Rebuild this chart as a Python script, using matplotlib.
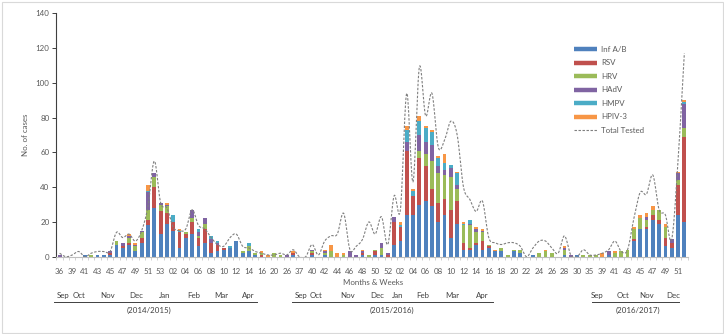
import numpy as np
import matplotlib
matplotlib.use("Agg")
import matplotlib.pyplot as plt
from matplotlib.lines import Line2D
from matplotlib.patches import Rectangle
import matplotlib.transforms as mtransforms

plt.rcParams['font.family'] = ['Lato', 'DejaVu Sans']

# ---------------- data ----------------
weeks = ["36", "38", "39", "40", "41", "42", "43", "44", "45", "46",
         "47", "48", "49", "50", "51", "52", "53", "01", "02", "03",
         "04", "05", "06", "07", "08", "09", "10", "11", "12", "13",
         "14", "15", "16", "18", "20", "22", "26", "36", "37", "39",
         "40", "41", "42", "43", "44", "45", "46", "47", "48", "49",
         "50", "51", "52", "53", "02", "03", "04", "05", "06", "07",
         "08", "09", "10", "11", "12", "13", "14", "15", "16", "17",
         "18", "19", "20", "21", "22", "23", "24", "25", "26", "27",
         "28", "29", "30", "33", "35", "37", "39", "40", "41", "42",
         "43", "44", "45", "46", "47", "48", "49", "50", "51", "52"]

inf_ab = [0, 0, 0, 0, 1, 0, 1, 1, 1, 7, 5, 7, 3, 8, 18, 28, 13, 19, 15, 5,
          11, 13, 6, 8, 2, 3, 4, 5, 9, 2, 3, 1, 0, 0, 0, 0, 0, 1, 0, 0,
          1, 0, 1, 0, 0, 0, 0, 0, 1, 0, 1, 1, 0, 7, 9, 24, 24, 30, 32, 29,
          20, 24, 11, 19, 4, 4, 7, 4, 5, 3, 3, 0, 3, 2, 0, 1, 0, 0, 0, 0,
          1, 0, 1, 0, 0, 0, 0, 1, 0, 0, 0, 9, 16, 16, 21, 19, 6, 5, 24, 20]
rsv = [0, 0, 0, 0, 0, 0, 0, 0, 1, 0, 1, 1, 0, 3, 3, 12, 13, 6, 5, 9,
       2, 7, 5, 8, 6, 4, 1, 0, 0, 0, 0, 0, 1, 0, 0, 0, 0, 1, 0, 0,
       1, 0, 0, 0, 0, 0, 0, 0, 1, 0, 2, 0, 1, 13, 8, 37, 11, 27, 20, 10,
       11, 9, 16, 13, 4, 1, 1, 5, 1, 0, 0, 0, 0, 0, 0, 0, 0, 0, 0, 0,
       0, 0, 0, 0, 0, 0, 0, 0, 0, 0, 0, 1, 0, 1, 3, 2, 5, 3, 17, 49]
hrv = [0, 0, 0, 0, 0, 1, 0, 0, 0, 2, 0, 3, 3, 3, 6, 6, 4, 4, 0, 0,
       1, 2, 1, 3, 0, 0, 0, 0, 0, 1, 3, 1, 1, 0, 2, 1, 0, 0, 0, 0,
       1, 0, 1, 3, 0, 1, 0, 0, 0, 1, 1, 4, 0, 0, 0, 0, 0, 4, 7, 16,
       17, 14, 19, 7, 10, 13, 6, 5, 1, 0, 2, 1, 1, 2, 0, 0, 2, 3, 2, 0,
       3, 0, 0, 1, 1, 1, 0, 0, 2, 3, 4, 6, 6, 4, 3, 6, 6, 0, 3, 5]
hadv = [1, 0, 0, 0, 0, 0, 0, 0, 1, 0, 2, 1, 1, 1, 10, 2, 1, 1, 0, 0,
        0, 5, 2, 3, 2, 1, 0, 0, 0, 0, 0, 0, 0, 0, 0, 0, 1, 0, 0, 0,
        1, 0, 1, 0, 0, 0, 3, 1, 1, 0, 0, 3, 1, 3, 0, 5, 0, 9, 7, 9,
        4, 3, 5, 2, 0, 1, 2, 1, 0, 0, 0, 0, 0, 0, 0, 0, 0, 0, 0, 0,
        1, 1, 0, 0, 0, 0, 0, 2, 0, 0, 0, 0, 0, 2, 0, 0, 0, 2, 4, 14]
hmpv = [0, 0, 0, 0, 0, 0, 0, 0, 0, 0, 0, 0, 0, 0, 1, 0, 0, 0, 4, 1,
        0, 0, 2, 0, 2, 1, 0, 1, 0, 0, 2, 0, 0, 0, 0, 0, 0, 0, 0, 0,
        0, 0, 0, 0, 0, 0, 0, 0, 0, 0, 0, 0, 0, 0, 1, 7, 3, 8, 8, 8,
        5, 4, 2, 7, 1, 2, 0, 0, 0, 0, 0, 0, 0, 0, 0, 0, 0, 0, 0, 0,
        0, 0, 0, 0, 0, 0, 0, 0, 0, 0, 0, 0, 0, 0, 0, 0, 0, 0, 0, 1]
hpiv3 = [0, 0, 0, 0, 0, 0, 0, 0, 0, 0, 0, 1, 1, 0, 3, 0, 0, 1, 0, 1,
         0, 0, 0, 0, 0, 0, 0, 0, 0, 0, 0, 0, 1, 1, 0, 0, 0, 1, 0, 0,
         0, 0, 1, 4, 2, 1, 0, 0, 1, 0, 0, 0, 0, 0, 2, 2, 1, 3, 1, 1,
         1, 5, 0, 1, 1, 0, 1, 1, 0, 1, 0, 0, 0, 0, 0, 0, 0, 1, 0, 0,
         1, 0, 0, 0, 0, 0, 2, 0, 1, 0, 0, 1, 2, 2, 2, 0, 2, 0, 1, 1]
total_tested = [2, 0, 1, 3, 0, 2, 3, 3, 3, 14, 11, 13, 9, 15, 29, 55, 31, 28, 17, 15,
                16, 27, 18, 16, 11, 7, 6, 11, 13, 6, 5, 3, 2, 1, 1, 2, 1, 4, 0, 0,
                7, 1, 9, 12, 13, 25, 4, 6, 10, 20, 13, 23, 7, 35, 27, 94, 43, 109, 81, 94,
                63, 67, 78, 70, 40, 33, 26, 32, 11, 8, 7, 8, 8, 6, 0, 5, 9, 9, 5, 2,
                12, 1, 0, 4, 1, 1, 2, 4, 9, 3, 4, 22, 37, 36, 47, 27, 24, 10, 55, 117]

series_names = ["Inf A/B", "RSV", "HRV", "HAdV", "HMPV", "HPIV-3"]
series_values = [inf_ab, rsv, hrv, hadv, hmpv, hpiv3]
series_colors = ["#4F81BD", "#C0504D", "#9BBB59", "#8064A2", "#4BACC6", "#F79646"]

seasons = ["(2014/2015)", "(2015/2016)", "(2016/2017)"]
season_months = [["Sep", "Oct", "Nov", "Dec", "Jan", "Feb", "Mar", "Apr"],
                 ["Sep", "Oct", "Nov", "Dec", "Jan", "Feb", "Mar", "Apr"],
                 ["Sep", "Oct", "Nov", "Dec"]]

# ---------------- layout (category-unit positions of the month annotations) ----------------
month_pos = [[0.6, 3.0, 7.6, 12.2, 16.6, 21.2, 25.6, 29.9],
             [38.3, 40.7, 45.6, 50.3, 53.5, 57.6, 62.2, 67.0],
             [85.2, 89.2, 93.1, 97.3]]
underline_span = [(-0.85, 31.2), (36.9, 68.7), (84.3, 98.2)]
season_pos = [14.2, 52.7, 91.7]

W, H = 724, 334
FS = 5.7
fig = plt.figure(figsize=(W / 100, H / 100), dpi=100)
fig.patch.set_facecolor("white")
fig.add_artist(Rectangle((1.5 / W, 1.5 / H), 1 - 3 / W, 1 - 3 / H, transform=fig.transFigure,
                         fill=False, edgecolor="#d9d9d9", lw=0.8))

ax = fig.add_axes([56.5 / W, 1 - 256.7 / H, 631 / W, 243.4 / H])

x = np.arange(len(weeks))
bottom = np.zeros(len(weeks))
for name, vals, col in zip(series_names, series_values, series_colors):
    v = np.array(vals, dtype=float)
    ax.bar(x, v, bottom=bottom, width=0.6, color=col, linewidth=0, zorder=2)
    bottom += v


def smooth(xv, yv, n=16):
    pts = np.column_stack([xv, yv]).astype(float)
    P = np.vstack([pts[0], pts, pts[-1]])
    out = []
    t = np.linspace(0, 1, n, endpoint=False)[:, None]
    for i in range(1, len(P) - 2):
        p0, p1, p2, p3 = P[i - 1], P[i], P[i + 1], P[i + 2]
        c1 = p1 + (p2 - p0) / 6.0
        c2 = p2 - (p3 - p1) / 6.0
        out.append((1 - t) ** 3 * p1 + 3 * (1 - t) ** 2 * t * c1 + 3 * (1 - t) * t ** 2 * c2 + t ** 3 * p2)
    out.append(pts[-1][None, :])
    return np.vstack(out)


sm = smooth(x, total_tested)
ax.plot(sm[:, 0], sm[:, 1], color="#7f7f7f", lw=0.8, ls=(0, (2.2, 1.4)), zorder=3)

ax.set_xlim(-0.5, len(weeks) - 0.5)
ax.set_ylim(0, 140)
ax.set_yticks(np.arange(0, 141, 20))
ax.spines["top"].set_visible(False)
ax.spines["right"].set_visible(False)
ax.spines["left"].set_color("#404040")
ax.spines["left"].set_linewidth(0.8)
ax.spines["bottom"].set_color("#bfbfbf")
ax.spines["bottom"].set_linewidth(0.8)
ax.tick_params(axis="y", direction="out", length=3, width=0.7, color="#404040",
               labelsize=FS, labelcolor="#595959", pad=2)
ax.set_xticks(x[::2])
ax.set_xticklabels(weeks[::2])
ax.set_xticks(np.arange(-0.5, len(weeks), 1), minor=True)
ax.tick_params(axis="x", which="major", length=0, labelsize=FS, labelcolor="#595959", pad=8)
ax.tick_params(axis="x", which="minor", length=2.5, width=0.5, color="#bfbfbf", direction="out")
ax.set_ylabel("No. of cases", fontsize=FS, color="#595959", labelpad=5)

trans = mtransforms.blended_transform_factory(ax.transData, ax.transAxes)
ax.text(49.6, -0.108, "Months & Weeks", transform=trans, ha="center", va="center",
        fontsize=FS, color="#595959")
for months, pos, span, sname, spos in zip(season_months, month_pos, underline_span, seasons, season_pos):
    for m, p in zip(months, pos):
        ax.text(p, -0.161, m, transform=trans, ha="center", va="center", fontsize=FS,
                color="#404040", clip_on=False)
    ax.add_line(Line2D([span[0], span[1]], [-0.188, -0.188], transform=trans, color="#404040",
                       lw=0.7, clip_on=False))
    ax.text(spos, -0.222, sname, transform=trans, ha="center", va="center", fontsize=FS,
            color="#404040", clip_on=False)

handles = [Line2D([], [], color=c, lw=3.2, solid_capstyle="butt") for c in series_colors]
handles.append(Line2D([], [], color="#7f7f7f", lw=0.8, ls=(0, (2.2, 1.4))))
labels = series_names + ["Total Tested"]
fig.legend(handles, labels, loc="upper left", bbox_to_anchor=(574 / W, 1 - 46 / H),
           frameon=False, fontsize=FS, handlelength=2.9, handletextpad=0.55,
           labelspacing=0.82, borderpad=0, borderaxespad=0, labelcolor="#595959")

fig.savefig("out.png", dpi=100)
